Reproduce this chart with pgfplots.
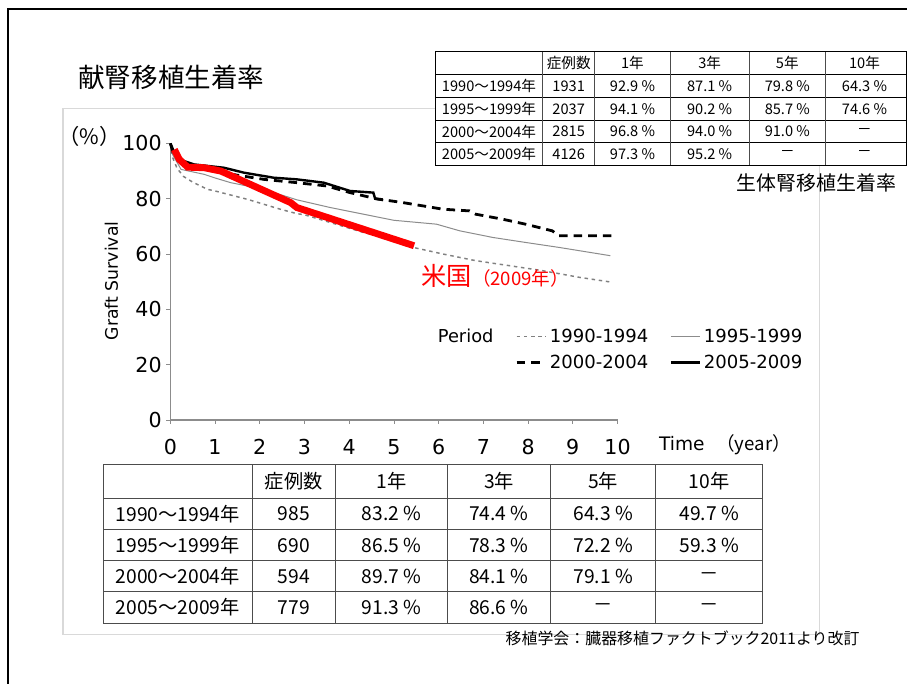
\documentclass[border=0pt]{standalone}
\usepackage{pgfplots}
\pgfplotsset{compat=1.18}
\usepackage{fontspec}
\setmainfont{DejaVu Sans}
\newfontfamily\cjk{Noto Sans CJK JP}
\newcommand\toprow[2]{%
  \foreach \t [count=\i from 0] in {#2} {
    \pgfmathsetmacro\cx{{491,571,635,712.5,790.5,868}[\i]}
    \node[font=\cjk\fontsize{11}{13}\selectfont] at (\cx,#1) {\t};
  }}
\newcommand\botrow[2]{%
  \foreach \t [count=\i from 0] in {#2} {
    \pgfmathsetmacro\cx{{178.5,295,393,501,605.5,712}[\i]}
    \node[font=\cjk\fontsize{14.5}{17}\selectfont] at (\cx,#1) {\t};
  }}
\begin{document}
\begin{tikzpicture}
\begin{scope}[x=0.75pt,y=-0.75pt]
\useasboundingbox (0,0) rectangle (907,686);
\fill[white] (0,0) rectangle (907,686);
\draw[line width=1.8pt] (8,700) -- (8,9) -- (920,9);
\draw[black!15, line width=1.2pt] (63,109) rectangle (823,637);
\node[anchor=west, font=\cjk\fontsize{20}{24}\selectfont] at (74,78) {献腎移植生着率};
\end{scope}

\begin{axis}[
  at={(128.25pt,-316.275pt)}, anchor=south west,
  scale only axis, width=336.75pt, height=208.3pt,
  xmin=0, xmax=10, ymin=0, ymax=100,
  axis x line*=bottom, axis y line*=left,
  axis line style={black!45, line width=0.8pt, -},
  xtick={0,1,...,10}, ytick={0,20,...,100},
  tick align=outside, major tick length=3pt,
  tick style={black!45, line width=0.6pt},
  ticklabel style={font=\fontsize{15.5}{17}\selectfont, text=black},
  xticklabel style={yshift=-8pt},
  /pgf/number format/assume math mode=true,
  clip=false,
  legend image code/.code={\draw[#1] (0pt,0pt) -- (22pt,0pt);},
  legend columns=2,
  legend cell align=left,
  legend style={at={(0.762,0.35)}, anchor=north west, draw=none, fill=none,
    font=\fontsize{13.6}{15}\selectfont, row sep=4pt,
    /tikz/every even column/.append style={column sep=14pt}},
]
% 1990-1994
\addplot[black!50, line width=1.1pt, dash pattern=on 2.6pt off 2.8pt] coordinates {
(0,100) (0.05,95) (0.15,91) (0.3,88) (0.5,86) (0.83,83.4) (1,82.8) (1.72,79.8)
(2.46,76.2) (2.83,74.6) (3,74.2) (3.58,71.4) (4.32,67.8) (5,65.2) (5.43,62.4)
(6.1,60.0) (6.83,57.6) (7.58,55.8) (8.32,54.0) (9.14,51.6) (9.88,49.8)};
\addlegendentry{1990-1994}
% 1995-1999
\addplot[black!45, line width=0.75pt] coordinates {
(0,100) (0.05,96) (0.24,90.6) (0.76,88.8) (1,87.5) (1.35,85.8) (2.09,83.4)
(2.83,79.6) (3.58,76.8) (4.32,74.4) (5,72.2) (5.95,70.8) (6.47,68.4) (7.21,66.0)
(7.94,64.2) (8.69,62.4) (9.84,59.4)};
\addlegendentry{1995-1999}
% 2000-2004
\addplot[black, line width=2.1pt, dash pattern=on 6.5pt off 4.5pt] coordinates {
(0,100) (0.1,96) (0.31,92.4) (0.6,91.2) (0.98,90) (1.5,88.5) (2.09,87.0)
(2.83,85.8) (3.5,84.6) (4.02,82.2) (4.6,80.0) (5.2,78.6) (6.1,76.2) (6.69,75.6)
(6.83,74.4) (7.43,72.6) (7.94,70.8) (8.54,68.4) (8.69,66.6) (9.9,66.6)};
\addlegendentry{2000-2004}
% 2005-2009
\addplot[black, line width=1.8pt] coordinates {
(0,100) (0.05,97) (0.31,93.6) (0.53,92.4) (1.2,91.2) (1.65,89.4) (2.31,87.6)
(2.83,87.0) (3.43,85.8) (4.02,82.8) (4.54,82.2) (4.58,80.0) (4.76,79.5)};
\addlegendentry{2005-2009}
% US 2009
\addplot[red, line width=5.2pt, forget plot] coordinates {
(0.09,97.8) (0.2,94.2) (0.39,91.4) (0.76,91.2) (1.13,90.0) (2.69,78.6)
(2.83,76.8) (5.45,63.0)};
\end{axis}

\begin{scope}[x=0.75pt,y=-0.75pt]
\node[font=\cjk\fontsize{16}{18}\selectfont] at (90,137) {（\%）};
\node[rotate=90, font=\fontsize{13}{15}\selectfont] at (112,282) {Graft Survival};
\node[anchor=west, font=\fontsize{14}{16}\selectfont] at (657,447) {Time\ \ {\cjk （year）}};
\node[anchor=west, font=\fontsize{13.4}{15}\selectfont] at (435,337) {Period};
\node[anchor=west, text=red, inner sep=0pt] at (423,277)
  {{\cjk\fontsize{19}{22}\selectfont 米国}{\cjk\fontsize{14}{16}\selectfont （2009年）}};

% top table
\fill[white] (437,52) rectangle (910,166);
\foreach \yy in {75,98,121,143} \draw[line width=0.6pt] (437,\yy) -- (910,\yy);
\foreach \xx in {545,597,673,752,829} \draw[line width=0.6pt, black!70] (\xx,52) -- (\xx,166);
\draw[line width=1pt] (437,52) rectangle (910,166);
\toprow{63.5}{,症例数,1年,3年,5年,10年}
\toprow{86.5}{1990～1994年,1931,92.9 \%,87.1 \%,79.8 \%,64.3 \%}
\toprow{109.5}{1995～1999年,2037,94.1 \%,90.2 \%,85.7 \%,74.6 \%}
\toprow{132}{2000～2004年,2815,96.8 \%,94.0 \%,91.0 \%,－}
\toprow{154.5}{2005～2009年,4126,97.3 \%,95.2 \%,－,－}
\node[anchor=west, font=\cjk\fontsize{15}{18}\selectfont] at (735,184) {生体腎移植生着率};

% bottom table
\fill[white] (104,466) rectangle (766,626);
\foreach \yy in {500,532,563,594} \draw[line width=0.7pt, black!70] (104,\yy) -- (766,\yy);
\foreach \xx in {253,337,449,553,658} \draw[line width=0.7pt, black!70] (\xx,466) -- (\xx,626);
\draw[line width=0.8pt, black!70] (104,466) rectangle (766,626);
\botrow{483}{,症例数,1年,3年,5年,10年}
\botrow{516}{1990～1994年,985,83.2 \%,74.4 \%,64.3 \%,49.7 \%}
\botrow{547.5}{1995～1999年,690,86.5 \%,78.3 \%,72.2 \%,59.3 \%}
\botrow{578.5}{2000～2004年,594,89.7 \%,84.1 \%,79.1 \%,－}
\botrow{610}{2005～2009年,779,91.3 \%,86.6 \%,－,－}

\node[anchor=west, font=\cjk\fontsize{12}{14}\selectfont] at (503,641) {移植学会：臓器移植ファクトブック2011より改訂};
\end{scope}
\end{tikzpicture}
\end{document}
